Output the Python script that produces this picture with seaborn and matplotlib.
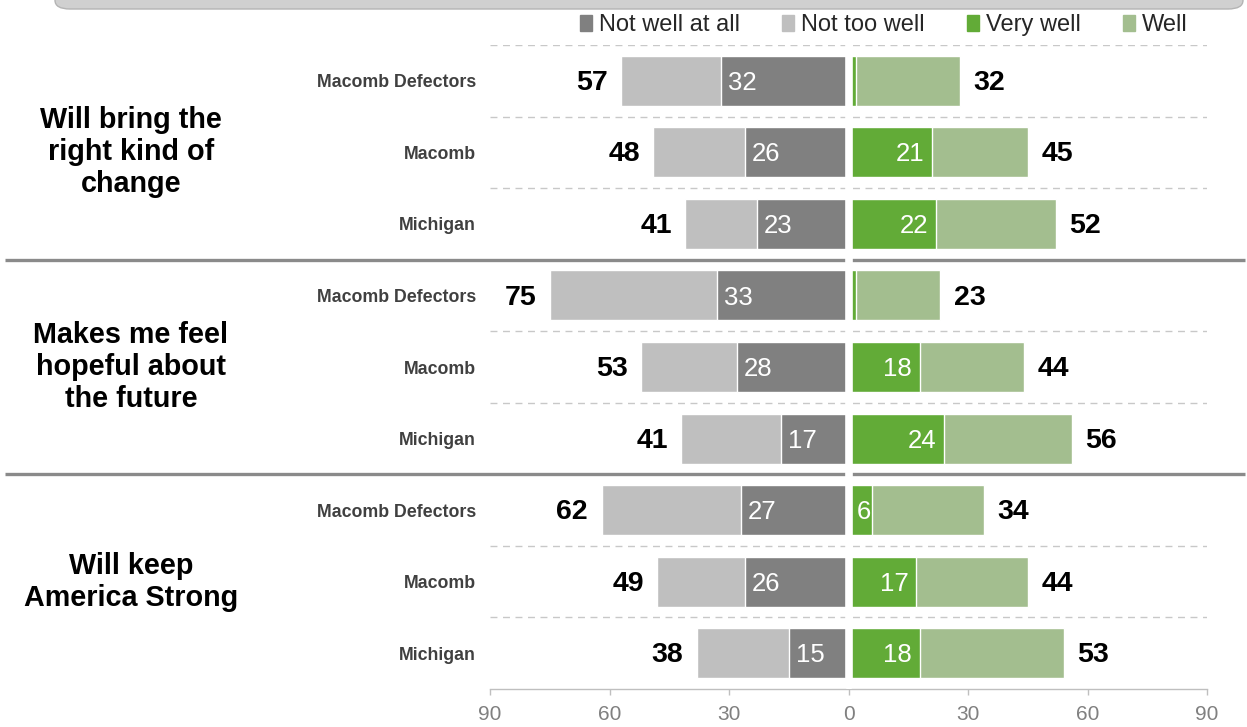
import matplotlib.pyplot as plt
import seaborn as sns
import pandas as pd
from matplotlib.patches import Patch, FancyBboxPatch

groups = ["Will bring the\nright kind of\nchange",
          "Makes me feel\nhopeful about\nthe future",
          "Will keep\nAmerica Strong"]
rows = ["Macomb Defectors", "Macomb", "Michigan"]

# bar segments (percent), top to bottom
not_well_at_all = [32, 26, 23, 33, 28, 17, 27, 26, 15]
not_too_well = [25, 23, 18, 42, 24, 25, 35, 22, 23]
very_well = [2, 21, 22, 2, 18, 24, 6, 17, 18]
well = [26, 24, 30, 21, 26, 32, 28, 28, 36]
# printed totals
neg_totals = [57, 48, 41, 75, 53, 41, 62, 49, 38]
pos_totals = [32, 45, 52, 23, 44, 56, 34, 44, 53]
ticks = [-90, -60, -30, 0, 30, 60, 90]

C_NWAA = '#808080'
C_NTW = '#bfbfbf'
C_VW = '#62ab37'
C_WELL = '#a3be8f'

sns.set_theme(style='white')
plt.rcParams['font.family'] = ['Liberation Sans', 'DejaVu Sans']

ids = [f'{g}-{r}' for g in range(len(groups)) for r in rows]
df = pd.DataFrame({'id': ids, 'row': rows * len(groups),
                   'nwaa': not_well_at_all, 'ntw': not_too_well,
                   'vw': very_well, 'well': well})
df['neg_bar'] = -(df['nwaa'] + df['ntw'])
df['neg_inner'] = -df['nwaa']
df['pos_bar'] = df['vw'] + df['well']

fig = plt.figure(figsize=(12.47, 7.27), dpi=100)
ax = fig.add_axes([490 / 1247, 1 - 689 / 727, 717 / 1247, 644 / 727])

# stacked look: draw full bar first, inner segment on top
for col, color in [('neg_bar', C_NTW), ('neg_inner', C_NWAA),
                   ('pos_bar', C_WELL), ('vw', C_VW)]:
    sns.barplot(data=df, x=col, y='id', order=ids, orient='h', color=color,
                width=0.7, edgecolor='white', linewidth=1, saturation=1,
                errorbar=None, ax=ax)

ax.set_xlim(-90, 90)
ax.set_ylim(8.5, -0.5)
ax.set_xlabel('')
ax.set_ylabel('')

# gridlines and group separators
for y in [-0.5, 0.5, 1.5, 3.5, 4.5, 6.5, 7.5]:
    ax.axhline(y, color='#c8c8c8', lw=1, ls=(0, (5, 4)), zorder=2)
for y in [2.5, 5.5]:
    ax.plot([(5 - 490) / 717, (1245 - 490) / 717], [y, y],
            transform=ax.get_yaxis_transform(), clip_on=False,
            color='#8a8a8a', lw=2.4, zorder=2, solid_capstyle='butt')
ax.axvline(0, ymin=0.004, ymax=1, color='white', lw=5.5, zorder=3)

# value labels
for i in range(len(ids)):
    nb = not_well_at_all[i] + not_too_well[i]
    pb = very_well[i] + well[i]
    ax.text(-nb - 3.4, i + 0.03, str(neg_totals[i]), ha='right', va='center',
            fontsize=20.5, fontweight='bold', color='black', zorder=4)
    ax.text(pb + 3.4, i + 0.03, str(pos_totals[i]), ha='left', va='center',
            fontsize=20.5, fontweight='bold', color='black', zorder=4)
    ax.text(-not_well_at_all[i] + 1.7, i + 0.03, str(not_well_at_all[i]),
            ha='left', va='center', fontsize=18.5, color='white', zorder=4)
    if very_well[i] >= 3:
        off = 2 if very_well[i] > 10 else 0.4
        ax.text(very_well[i] - off, i + 0.03, str(very_well[i]), ha='right',
                va='center', fontsize=18.5, color='white', zorder=4)

# group labels
for g, label in enumerate(groups):
    ax.text((131 - 490) / 717, g * 3 + 1, label,
            transform=ax.get_yaxis_transform(), ha='center', va='center',
            multialignment='center', fontsize=20.7, fontweight='bold',
            linespacing=1.18, color='black')

ax.set_yticks(range(len(ids)))
ax.set_yticklabels(df['row'], fontsize=12.8, fontweight='bold', color='#404040')
ax.tick_params(axis='y', length=0, pad=10)

ax.set_xticks(ticks)
ax.set_xticklabels([str(abs(t)) for t in ticks], fontsize=15, color='#808080')
ax.tick_params(axis='x', length=4.5, width=1, color='#bfbfbf', pad=7,
               direction='out', bottom=True)
for s in ['top', 'right', 'left']:
    ax.spines[s].set_visible(False)
ax.spines['bottom'].set_color('#bfbfbf')
ax.spines['bottom'].set_linewidth(1)

# legend
handles = [Patch(color=C_NWAA), Patch(color=C_NTW), Patch(color=C_VW), Patch(color=C_WELL)]
fig.legend(handles, ['Not well at all', 'Not too well', 'Very well', 'Well'],
           loc='center right', bbox_to_anchor=(1188 / 1247, 1 - 25 / 727),
           ncol=4, frameon=False, fontsize=17, handlelength=0.5,
           handleheight=0.65, handletextpad=0.3, columnspacing=1.8,
           borderaxespad=0, borderpad=0)

# cut-off title box at the top
fig.add_artist(FancyBboxPatch((55 / 1247, 1 - 9 / 727), (1243 - 55) / 1247, 0.05,
                              boxstyle='round,pad=0,rounding_size=0.012',
                              transform=fig.transFigure, facecolor='#d0d0d0',
                              edgecolor='#b4b4b4', lw=1, clip_on=False))

fig.savefig('out.png', dpi=100)
